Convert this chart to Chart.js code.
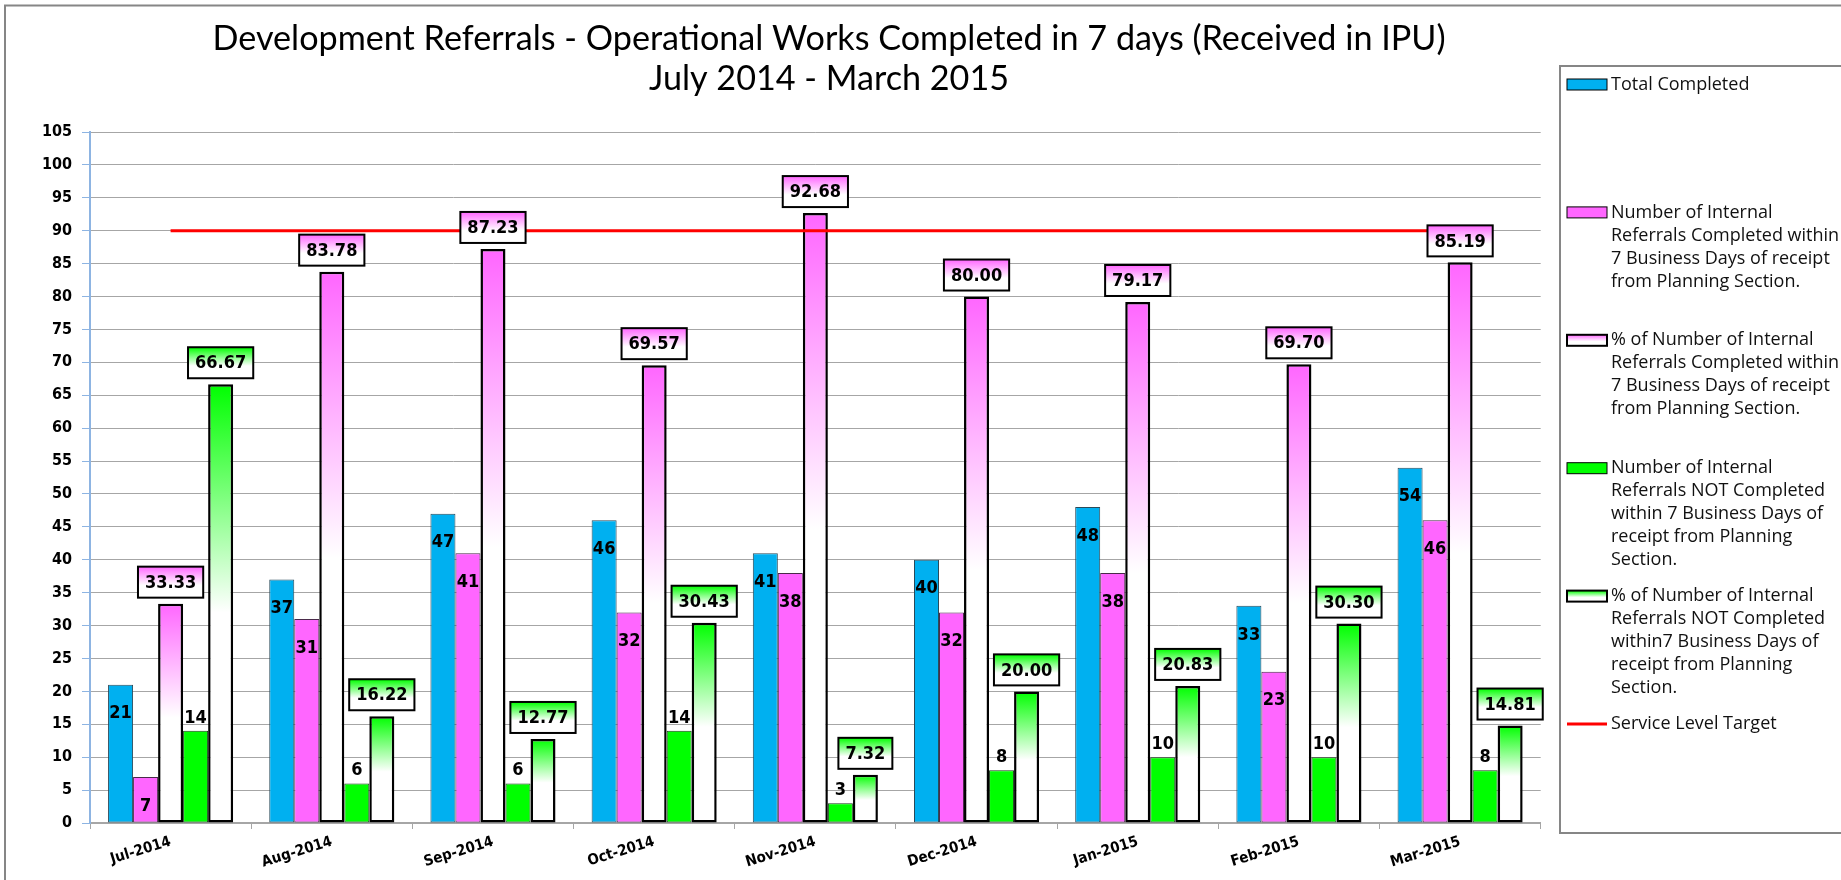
<!DOCTYPE html>
<html><head><meta charset="utf-8">
<script src="https://cdn.jsdelivr.net/npm/chart.js@4.4.1/dist/chart.umd.min.js"></script>
<style>html,body{margin:0;padding:0;background:#fff;overflow:hidden}canvas{display:block}</style>
</head><body>
<canvas id="c" width="1841" height="880" style="width:1841px;height:880px"></canvas>
<script>
// ---- data ----
const categories = ['Jul-2014','Aug-2014','Sep-2014','Oct-2014','Nov-2014','Dec-2014','Jan-2015','Feb-2015','Mar-2015'];
const totalCompleted   = [21, 37, 47, 46, 41, 40, 48, 33, 54];
const completedWithin  = [7, 31, 41, 32, 38, 32, 38, 23, 46];
const pctCompleted     = [33.33, 83.78, 87.23, 69.57, 92.68, 80.00, 79.17, 69.70, 85.19];
const notCompleted     = [14, 6, 6, 14, 3, 8, 10, 10, 8];
const pctNotCompleted  = [66.67, 16.22, 12.77, 30.43, 7.32, 20.00, 20.83, 30.30, 14.81];
const serviceTarget    = [90, 90, 90, 90, 90, 90, 90, 90, 90];
const yMin = 0, yMax = 105, yStep = 5;
const titleLines = ['Development Referrals - Operational Works Completed in 7 days (Received in IPU)', 'July 2014 - March 2015'];
const seriesNames = [
  ['Total Completed'],
  ['Number of Internal', 'Referrals Completed within', '7 Business Days of receipt', 'from Planning Section.'],
  ['% of Number of Internal', 'Referrals Completed within', '7 Business Days of receipt', 'from Planning Section.'],
  ['Number of Internal', 'Referrals NOT Completed', 'within 7 Business Days of', 'receipt from Planning', 'Section.'],
  ['% of Number of Internal', 'Referrals NOT Completed', 'within7 Business Days of', 'receipt from Planning', 'Section.'],
  ['Service Level Target']
];

// ---- styles ----
const BLUE = '#00B0F0', PINK = '#FF66FF', GREEN = '#00FF00', RED = '#FF0000';
const W = 1841, H = 880;
const PLOT_L = 90, PLOT_R = 1540.7, PLOT_T = 132, PLOT_B = 823;
const COND = '"DejaVu Sans Condensed", "DejaVu Sans"';
const LABEL_FONT = 'bold 18px ' + COND;

function gradFill(color) {
  return (c) => {
    const chart = c.chart, ys = chart.scales && chart.scales.y;
    if (!ys || c.type !== 'data' || c.raw == null) return color;
    const top = ys.getPixelForValue(c.raw), base = ys.getPixelForValue(0);
    if (!isFinite(top) || !isFinite(base) || base - top < 1) return color;
    const g = chart.ctx.createLinearGradient(0, top, 0, base);
    g.addColorStop(0, color);
    g.addColorStop(0.52, '#FFFFFF');
    g.addColorStop(1, '#FFFFFF');
    return g;
  };
}

const labelPlugin = {
  id: 'valueLabels',
  afterDatasetsDraw(chart) {
    const ctx = chart.ctx;
    ctx.save();
    ctx.font = LABEL_FONT;
    ctx.textAlign = 'center';
    ctx.textBaseline = 'middle';
    chart.data.datasets.forEach((ds, di) => {
      if (!ds.labelMode) return;
      const meta = chart.getDatasetMeta(di);
      meta.data.forEach((bar, i) => {
        const v = ds.data[i];
        const x = bar.x, top = bar.y;
        if (ds.labelMode === 'inside') {
          ctx.fillStyle = '#000';
          ctx.fillText(String(v), x, top + 29);
        } else if (ds.labelMode === 'above') {
          ctx.fillStyle = '#000';
          ctx.fillText(String(v), x, top - 13);
        } else if (ds.labelMode === 'box') {
          const txt = v.toFixed(2);
          const tw = ctx.measureText(txt).width;
          const bw = tw + 14, bh = 31;
          const by = top - 6 - bh, bx = x - bw / 2;
          const g = ctx.createLinearGradient(0, by, 0, by + bh);
          g.addColorStop(0, ds.boxColor);
          g.addColorStop(0.6, '#FFFFFF');
          g.addColorStop(1, '#FFFFFF');
          ctx.fillStyle = g;
          ctx.fillRect(bx, by, bw, bh);
          ctx.lineWidth = 2;
          ctx.strokeStyle = '#000';
          ctx.strokeRect(bx, by, bw, bh);
          ctx.fillStyle = '#000';
          ctx.fillText(txt, x, by + bh / 2 + 1);
        }
      });
    });
    ctx.restore();
  }
};

const framePlugin = {
  id: 'frame',
  beforeDraw(chart) {
    const ctx = chart.ctx;
    ctx.save();
    ctx.fillStyle = '#fff';
    ctx.fillRect(0, 0, W, H);
    ctx.restore();
  },
  afterDraw(chart) {
    const ctx = chart.ctx;
    ctx.save();
    // outer chart border
    ctx.strokeStyle = '#868686';
    ctx.lineWidth = 2;
    ctx.strokeRect(5, 5.5, W + 10, H + 10);
    // title
    ctx.fillStyle = '#000';
    ctx.textAlign = 'center';
    ctx.textBaseline = 'alphabetic';
    ctx.font = '100px Lato';
    const w100 = ctx.measureText(titleLines[0]).width;
    const fs = 100 * 1233 / w100;
    ctx.font = fs.toFixed(2) + 'px Lato';
    ctx.fillText(titleLines[0], 829, 50);
    ctx.fillText(titleLines[1], 829, 90);
    // legend box
    ctx.strokeStyle = '#868686';
    ctx.lineWidth = 2;
    ctx.strokeRect(1560, 66, 400, 767);
    const sw = [
      {fill: BLUE, lw: 1},
      {fill: PINK, lw: 1},
      {grad: PINK, lw: 2},
      {fill: GREEN, lw: 1},
      {grad: GREEN, lw: 2},
      {line: RED}
    ];
    ctx.font = '18px "Open Sans"';
    ctx.textAlign = 'left';
    ctx.textBaseline = 'middle';
    seriesNames.forEach((lines, k) => {
      const y0 = 84.5 + k * 127.9;
      const s = sw[k];
      if (s.line) {
        ctx.strokeStyle = s.line; ctx.lineWidth = 3;
        ctx.beginPath(); ctx.moveTo(1567, y0); ctx.lineTo(1607, y0); ctx.stroke();
      } else {
        if (s.grad) {
          const g = ctx.createLinearGradient(0, y0 - 5.5, 0, y0 + 5.5);
          g.addColorStop(0, s.grad); g.addColorStop(0.6, '#fff'); g.addColorStop(1, '#fff');
          ctx.fillStyle = g;
        } else ctx.fillStyle = s.fill;
        ctx.fillRect(1567, y0 - 5.5, 40, 11);
        ctx.strokeStyle = '#000'; ctx.lineWidth = s.lw;
        ctx.strokeRect(1567, y0 - 5.5, 40, 11);
      }
      ctx.fillStyle = '#111';
      lines.forEach((ln, j) => ctx.fillText(ln, 1611, y0 + j * 23));
    });
    ctx.restore();
  }
};

const barBase = { borderSkipped: false, order: 2 };

new Chart(document.getElementById('c'), {
  type: 'bar',
  data: {
    labels: categories,
    datasets: [
      Object.assign({ label: seriesNames[0].join(' '), data: totalCompleted, backgroundColor: BLUE, borderColor: '#2a4a5a', borderWidth: 1, labelMode: 'inside' }, barBase),
      Object.assign({ label: seriesNames[1].join(' '), data: completedWithin, backgroundColor: PINK, borderColor: '#4a2a4a', borderWidth: 1, labelMode: 'inside' }, barBase),
      Object.assign({ label: seriesNames[2].join(' '), data: pctCompleted, backgroundColor: gradFill(PINK), borderColor: '#000', borderWidth: 2.5, labelMode: 'box', boxColor: PINK }, barBase),
      Object.assign({ label: seriesNames[3].join(' '), data: notCompleted, backgroundColor: GREEN, borderColor: '#1a3a1a', borderWidth: 1, labelMode: 'above' }, barBase),
      Object.assign({ label: seriesNames[4].join(' '), data: pctNotCompleted, backgroundColor: gradFill(GREEN), borderColor: '#000', borderWidth: 2.5, labelMode: 'box', boxColor: GREEN }, barBase),
      { type: 'line', label: seriesNames[5].join(' '), data: serviceTarget, borderColor: RED, borderWidth: 3, pointRadius: 0, fill: false, order: 0 }
    ]
  },
  options: {
    responsive: false,
    animation: false,
    devicePixelRatio: 1,
    layout: { padding: { left: 0, top: PLOT_T, right: W - PLOT_R, bottom: 0 } },
    datasets: { bar: { categoryPercentage: 0.776, barPercentage: 1.0 } },
    plugins: { legend: { display: false }, title: { display: false }, tooltip: { enabled: false } },
    scales: {
      x: {
        offset: true,
        grid: { display: true, drawOnChartArea: false, drawTicks: true, tickLength: 6, color: '#A6A6A6', tickColor: '#A6A6A6' },
        border: { display: true, color: '#A6A6A6', width: 2 },
        ticks: { minRotation: 17, maxRotation: 17, autoSkip: false, padding: 4, color: '#000', font: { family: COND, size: 15, weight: 'bold' } },
        afterFit(s) { s.height = H - PLOT_B; s.paddingLeft = 0; s.paddingRight = 0; }
      },
      y: {
        min: yMin, max: yMax,
        grid: { color: '#A6A6A6', lineWidth: 1, tickColor: '#8DB4E2', tickLength: 8 },
        border: { display: true, color: '#8DB4E2', width: 2 },
        ticks: { stepSize: yStep, padding: 10, color: '#000', font: { family: COND, size: 16, weight: 'bold' } },
        afterFit(s) { s.width = PLOT_L; s.paddingTop = 0; s.paddingBottom = 0; }
      }
    }
  },
  plugins: [framePlugin, labelPlugin]
});
</script>
</body></html>
